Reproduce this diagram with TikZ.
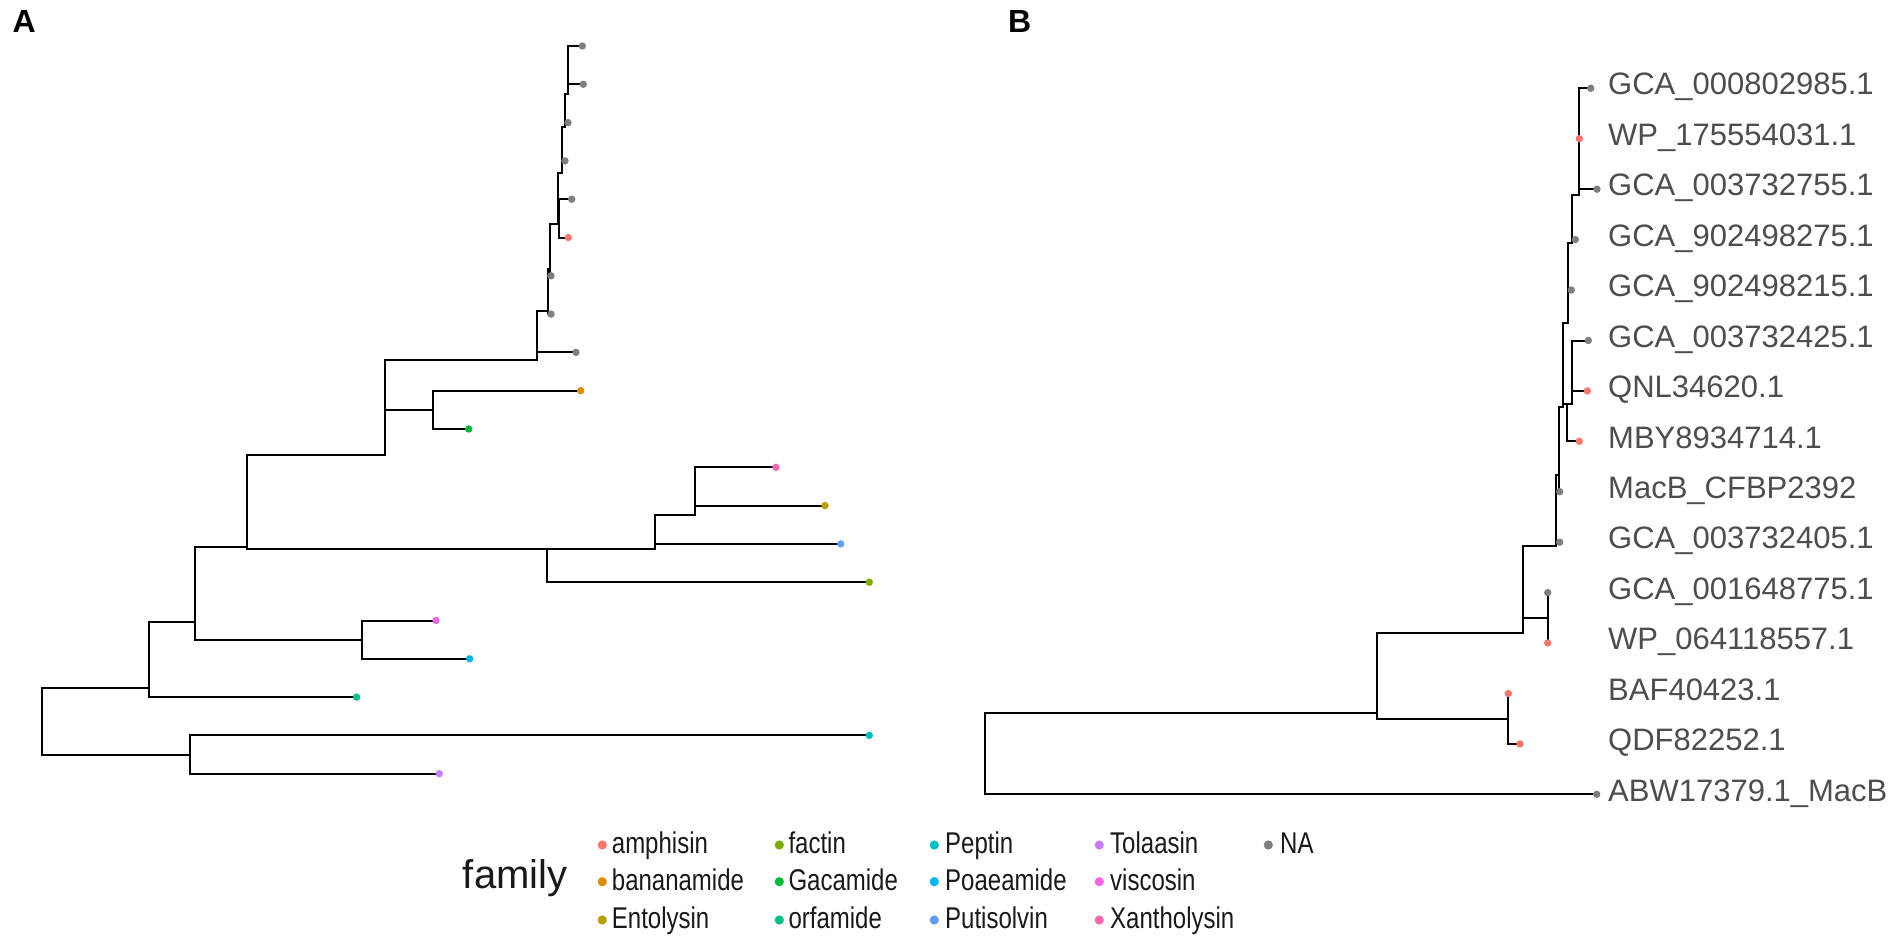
\documentclass[tikz,border=0pt]{standalone}
\usepackage{fontspec}
\setmainfont{Liberation Sans}
\newfontfamily\tipfont{Liberation Sans}
\newfontfamily\legfont[FakeStretch=0.8]{Liberation Sans}
\definecolor{cAmph}{HTML}{F8766D}
\definecolor{cBana}{HTML}{DE8C00}
\definecolor{cEnto}{HTML}{B79F00}
\definecolor{cFact}{HTML}{7CAE00}
\definecolor{cGaca}{HTML}{00BA38}
\definecolor{cOrfa}{HTML}{00C08B}
\definecolor{cPept}{HTML}{00BFC4}
\definecolor{cPoae}{HTML}{00B4F0}
\definecolor{cPuti}{HTML}{619CFF}
\definecolor{cTola}{HTML}{C77CFF}
\definecolor{cVisc}{HTML}{F564E3}
\definecolor{cXant}{HTML}{FF64B0}
\definecolor{cNA}{HTML}{7F7F7F}
\definecolor{labgray}{HTML}{4D4D4D}
\begin{document}
\begin{tikzpicture}[x=1pt,y=-1pt,
  edge/.style={line width=2pt, line join=miter, black},
  tipdot/.style={circle, inner sep=0pt, minimum size=7.4pt, draw=none},
  legdot/.style={circle, inner sep=0pt, minimum size=9.2pt, draw=none},
  tiplab/.style={anchor=base west, inner sep=0pt, text=labgray, font=\tipfont\fontsize{31}{37}\selectfont},
  legtxt/.style={anchor=base west, inner sep=0pt, text=black!90, font=\legfont\fontsize{30}{36}\selectfont},
  panel/.style={anchor=base west, inner sep=0pt, font=\bfseries\fontsize{32}{38}\selectfont}]
\useasboundingbox (0,0) rectangle (1902,944);

% ---------------- Tree A ----------------
\coordinate (a1) at (582.3,46);
\coordinate (a2) at (583.3,84.3);
\coordinate (a3) at (568,122.6);
\coordinate (a4) at (565,160.9);
\coordinate (a5) at (571.7,199.2);
\coordinate (a6) at (568.3,237.5);
\coordinate (a7) at (551,275.8);
\coordinate (a8) at (551,314.1);
\coordinate (a9) at (576,352.4);
\coordinate (a10) at (580.7,390.7);
\coordinate (a11) at (468.7,429);
\coordinate (a12) at (776,467.3);
\coordinate (a13) at (825,505.6);
\coordinate (a14) at (840.7,543.9);
\coordinate (a15) at (869.3,582.2);
\coordinate (a16) at (436,620.5);
\coordinate (a17) at (469.6,658.8);
\coordinate (a18) at (356.6,697.1);
\coordinate (a19) at (869.3,735.4);
\coordinate (a20) at (439.3,773.7);

\coordinate (nA) at (568.3,65.15);
\coordinate (nB) at (564.7,93.9);
\coordinate (nC) at (561.7,127.4);
\coordinate (nQ) at (558.7,218.35);
\coordinate (nP) at (558.3,172.9);
\coordinate (nR) at (550.3,224.35);
\coordinate (nT) at (548.3,269.2);
\coordinate (nU) at (536.7,310.8);
\coordinate (nW) at (433.3,409.85);
\coordinate (nV) at (385,360.3);
\coordinate (nJ) at (695,486.45);
\coordinate (nK) at (655,515.2);
\coordinate (nM) at (546.7,548.7);
\coordinate (nN) at (247.4,454.5);
\coordinate (nS) at (361.7,639.65);
\coordinate (nY) at (195,547.1);
\coordinate (nZ) at (149,622.1);
\coordinate (nPT) at (190,754.55);
\coordinate (rootA) at (42.1,688.3);
\coordinate (stubA) at (40.5,688.3);

\draw[edge] (stubA) -- (rootA);
\draw[edge] (nZ) |- (rootA) |- (nPT);
\draw[edge] (nY) |- (nZ) |- (a18);
\draw[edge] (nN) |- (nY) |- (nS);
\draw[edge] (nV) |- (nN) |- (nM);
\draw[edge] (nU) |- (nV) |- (nW);
\draw[edge] (nT) |- (nU) |- (a9);
\draw[edge] (nR) |- (nT) |- (a8);
\draw[edge] (nP) |- (nR) |- (a7);
\draw[edge] (nC) |- (nP) |- (nQ);
\draw[edge] (nB) |- (nC) |- (a4);
\draw[edge] (nA) |- (nB) |- (a3);
\draw[edge] (a1) -| (nA) |- (a2);
\draw[edge] (a5) -| (nQ) |- (a6);
\draw[edge] (a10) -| (nW) |- (a11);
\draw[edge] (nK) |- (nM) |- (a15);
\draw[edge] (nJ) |- (nK) |- (a14);
\draw[edge] (a12) -| (nJ) |- (a13);
\draw[edge] (a16) -| (nS) |- (a17);
\draw[edge] (a19) -| (nPT) |- (a20);

\node[tipdot, fill=cNA] (d1) at (a1) {};
\node[tipdot, fill=cNA] (d2) at (a2) {};
\node[tipdot, fill=cNA] (d3) at (a3) {};
\node[tipdot, fill=cNA] (d4) at (a4) {};
\node[tipdot, fill=cNA] (d5) at (a5) {};
\node[tipdot, fill=cAmph] (d6) at (a6) {};
\node[tipdot, fill=cNA] (d7) at (a7) {};
\node[tipdot, fill=cNA] (d8) at (a8) {};
\node[tipdot, fill=cNA] (d9) at (a9) {};
\node[tipdot, fill=cBana] (d10) at (a10) {};
\node[tipdot, fill=cGaca] (d11) at (a11) {};
\node[tipdot, fill=cXant] (d12) at (a12) {};
\node[tipdot, fill=cEnto] (d13) at (a13) {};
\node[tipdot, fill=cPuti] (d14) at (a14) {};
\node[tipdot, fill=cFact] (d15) at (a15) {};
\node[tipdot, fill=cVisc] (d16) at (a16) {};
\node[tipdot, fill=cPoae] (d17) at (a17) {};
\node[tipdot, fill=cOrfa] (d18) at (a18) {};
\node[tipdot, fill=cPept] (d19) at (a19) {};
\node[tipdot, fill=cTola] (d20) at (a20) {};

% ---------------- Tree B ----------------
\coordinate (b1) at (1590.7,88.3);
\coordinate (b2) at (1579.3,138.7);
\coordinate (b3) at (1597,189.2);
\coordinate (b4) at (1575.3,239.6);
\coordinate (b5) at (1571.3,290);
\coordinate (b6) at (1588.3,340.5);
\coordinate (b7) at (1587.3,390.9);
\coordinate (b8) at (1579.3,441.3);
\coordinate (b9) at (1559.7,491.7);
\coordinate (b10) at (1559.7,542.2);
\coordinate (b11) at (1547.7,592.6);
\coordinate (b12) at (1547.7,643);
\coordinate (b13) at (1508.3,693.5);
\coordinate (b14) at (1520,743.9);
\coordinate (b15) at (1596.7,794.3);

\coordinate (m1) at (1579.3,113.5);
\coordinate (m2) at (1579.3,151.35);
\coordinate (m3) at (1571.7,195.5);
\coordinate (m4) at (1567.7,242.7);
\coordinate (mE) at (1572.3,365.7);
\coordinate (mD) at (1567.3,403.5);
\coordinate (m5) at (1563.3,323.1);
\coordinate (m6) at (1559.3,407.4);
\coordinate (m7) at (1555.7,474.8);
\coordinate (mB) at (1547.7,617.8);
\coordinate (m8) at (1522.7,546.3);
\coordinate (mG) at (1508.3,718.7);
\coordinate (mF) at (1377.3,632.5);
\coordinate (rootB) at (985,713.4);

\draw[edge] (mF) |- (rootB) |- (b15);
\draw[edge] (m8) |- (mF) |- (mG);
\draw[edge] (m7) |- (m8) |- (mB);
\draw[edge] (m6) |- (m7) |- (b10);
\draw[edge] (m5) |- (m6) |- (b9);
\draw[edge] (m4) |- (m5) |- (mD);
\draw[edge] (m3) |- (m4) |- (b5);
\draw[edge] (m2) |- (m3) |- (b4);
\draw[edge] (m1) |- (m2) |- (b3);
\draw[edge] (b1) -| (m1) |- (b2);
\draw[edge] (mE) |- (mD) |- (b8);
\draw[edge] (b6) -| (mE) |- (b7);
\draw[edge] (b11) -| (mB) |- (b12);
\draw[edge] (b13) -| (mG) |- (b14);

\node[tipdot, fill=cNA] (e1) at (b1) {};
\node[tipdot, fill=cAmph] (e2) at (b2) {};
\node[tipdot, fill=cNA] (e3) at (b3) {};
\node[tipdot, fill=cNA] (e4) at (b4) {};
\node[tipdot, fill=cNA] (e5) at (b5) {};
\node[tipdot, fill=cNA] (e6) at (b6) {};
\node[tipdot, fill=cAmph] (e7) at (b7) {};
\node[tipdot, fill=cAmph] (e8) at (b8) {};
\node[tipdot, fill=cNA] (e9) at (b9) {};
\node[tipdot, fill=cNA] (e10) at (b10) {};
\node[tipdot, fill=cNA] (e11) at (b11) {};
\node[tipdot, fill=cAmph] (e12) at (b12) {};
\node[tipdot, fill=cAmph] (e13) at (b13) {};
\node[tipdot, fill=cAmph] (e14) at (b14) {};
\node[tipdot, fill=cNA] (e15) at (b15) {};

\node[tiplab] (l1) at (1608,95.0) {GCA\_000802985.1};
\node[tiplab] (l2) at (1608,145.4) {WP\_175554031.1};
\node[tiplab] (l3) at (1608,195.9) {GCA\_003732755.1};
\node[tiplab] (l4) at (1608,246.3) {GCA\_902498275.1};
\node[tiplab] (l5) at (1608,296.7) {GCA\_902498215.1};
\node[tiplab] (l6) at (1608,347.2) {GCA\_003732425.1};
\node[tiplab] (l7) at (1608,397.6) {QNL34620.1};
\node[tiplab] (l8) at (1608,448.0) {MBY8934714.1};
\node[tiplab] (l9) at (1608,498.4) {MacB\_CFBP2392};
\node[tiplab] (l10) at (1608,548.9) {GCA\_003732405.1};
\node[tiplab] (l11) at (1608,599.3) {GCA\_001648775.1};
\node[tiplab] (l12) at (1608,649.7) {WP\_064118557.1};
\node[tiplab] (l13) at (1608,700.2) {BAF40423.1};
\node[tiplab] (l14) at (1608,750.6) {QDF82252.1};
\node[tiplab] (l15) at (1608,801.0) {ABW17379.1\_MacB};

% ---------------- Panel labels ----------------
\node[panel] (pA) at (12.5,32.7) {A};
\node[panel] (pB) at (1008,32.7) {B};

% ---------------- Legend ----------------
\node[anchor=base west, inner sep=0pt, font=\fontsize{40}{48}\selectfont, text=black!90] (famt) at (462.7,888.3) {family};

\node[legdot, fill=cAmph] (g1) at (602.3,845) {};
\node[legdot, fill=cBana] (g2) at (602.3,881.7) {};
\node[legdot, fill=cEnto] (g3) at (602.3,920) {};
\node[legdot, fill=cFact] (g4) at (779.3,845) {};
\node[legdot, fill=cGaca] (g5) at (779.3,881.7) {};
\node[legdot, fill=cOrfa] (g6) at (779.3,920) {};
\node[legdot, fill=cPept] (g7) at (934.3,845) {};
\node[legdot, fill=cPoae] (g8) at (934.3,881.7) {};
\node[legdot, fill=cPuti] (g9) at (934.3,920) {};
\node[legdot, fill=cTola] (g10) at (1099.3,845) {};
\node[legdot, fill=cVisc] (g11) at (1099.3,881.7) {};
\node[legdot, fill=cXant] (g12) at (1099.3,920) {};
\node[legdot, fill=cNA] (g13) at (1268.3,845) {};

\node[legtxt] (t1) at (611.7,853.5) {amphisin};
\node[legtxt] (t2) at (611.7,890.2) {bananamide};
\node[legtxt] (t3) at (611.7,928.5) {Entolysin};
\node[legtxt] (t4) at (788.3,853.5) {factin};
\node[legtxt] (t5) at (788.3,890.2) {Gacamide};
\node[legtxt] (t6) at (788.3,928.5) {orfamide};
\node[legtxt] (t7) at (945,853.5) {Peptin};
\node[legtxt] (t8) at (945,890.2) {Poaeamide};
\node[legtxt] (t9) at (945,928.5) {Putisolvin};
\node[legtxt] (t10) at (1110,853.5) {Tolaasin};
\node[legtxt] (t11) at (1110,890.2) {viscosin};
\node[legtxt] (t12) at (1110,928.5) {Xantholysin};
\node[legtxt] (t13) at (1280,853.5) {NA};
\end{tikzpicture}
\end{document}
